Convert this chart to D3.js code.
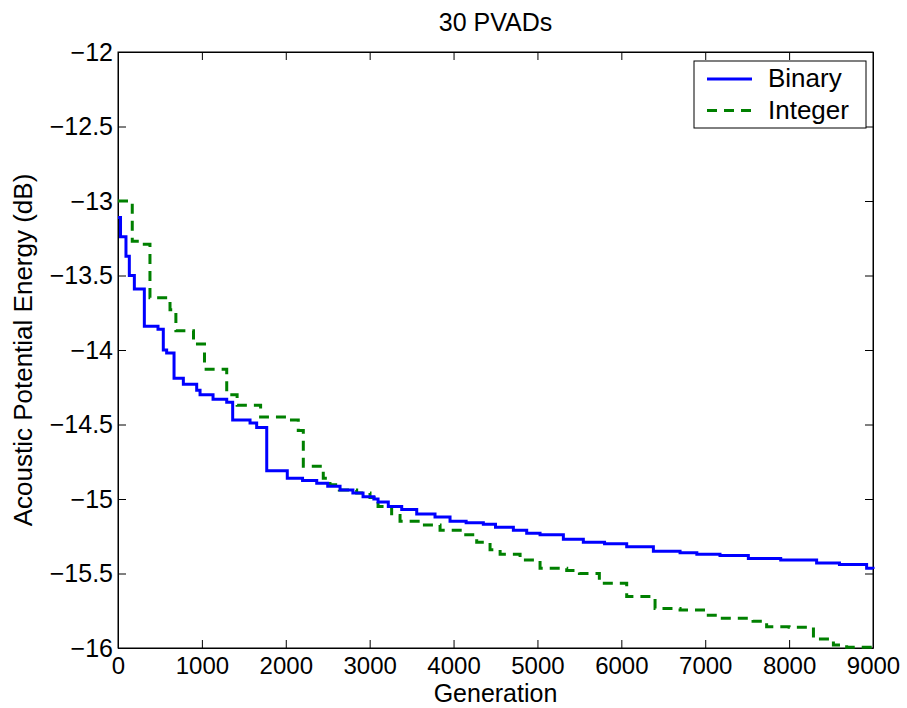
<!DOCTYPE html>
<html>
<head>
<meta charset="utf-8">
<script src="https://cdn.jsdelivr.net/npm/d3@7"></script>
<style>
  body { margin: 0; background: #fff; }
  text { font-family: "Liberation Sans", Arial, sans-serif; fill: #000; }
</style>
</head>
<body>
<svg id="chart" width="907" height="708"></svg>
<script>
// data (generation, dB), drawn as steps
const binary = [
  [0, -13.11], [30, -13.24], [95, -13.37], [135, -13.50], [195, -13.59],
  [314, -13.84], [477, -13.86], [540, -14.00], [580, -14.02], [668, -14.19],
  [779, -14.23], [938, -14.27], [978, -14.30], [1133, -14.33], [1296, -14.35],
  [1367, -14.47], [1574, -14.49], [1653, -14.52], [1773, -14.81], [2018, -14.86],
  [2200, -14.875], [2369, -14.895], [2500, -14.915], [2647, -14.94], [2800, -14.96],
  [2921, -14.985], [3050, -15.0], [3100, -15.02], [3222, -15.05], [3382, -15.07],
  [3561, -15.10], [3779, -15.12], [3958, -15.15], [4150, -15.16], [4355, -15.17],
  [4500, -15.19], [4713, -15.21], [4872, -15.23], [5031, -15.24], [5309, -15.27],
  [5547, -15.29], [5800, -15.30], [6064, -15.32], [6382, -15.35], [6700, -15.36],
  [6900, -15.37], [7176, -15.38], [7514, -15.40], [7900, -15.41], [8328, -15.43],
  [8600, -15.44], [8924, -15.465], [9000, -15.47]
];

const integer = [
  [0, -13.00], [170, -13.27], [250, -13.29], [381, -13.65], [620, -13.73],
  [690, -13.87], [900, -13.96], [1031, -14.13], [1296, -14.30], [1420, -14.37],
  [1700, -14.45], [2011, -14.47], [2149, -14.54], [2209, -14.78], [2447, -14.86],
  [2527, -14.905], [2638, -14.94], [2845, -14.96], [3004, -14.99], [3100, -15.05],
  [3262, -15.11], [3362, -15.15], [3600, -15.175], [3839, -15.21], [4117, -15.24],
  [4276, -15.29], [4435, -15.34], [4555, -15.37], [4793, -15.41], [5031, -15.465],
  [5349, -15.48], [5500, -15.50], [5738, -15.565], [6064, -15.655], [6402, -15.735],
  [6700, -15.745], [7000, -15.78], [7176, -15.80], [7570, -15.82], [7732, -15.857],
  [8000, -15.86], [8290, -15.94], [8528, -15.98], [8686, -15.995], [9000, -16.0]
];

const xTicks = [0, 1000, 2000, 3000, 4000, 5000, 6000, 7000, 8000, 9000];
const yTicks = [-12, -12.5, -13, -13.5, -14, -14.5, -15, -15.5, -16];
const seriesNames = ["Binary", "Integer"];

const svg = d3.select("#chart");
const margin = { top: 52, right: 34, bottom: 60, left: 118 };
const width = 907 - margin.left - margin.right;
const height = 708 - margin.top - margin.bottom;

const x = d3.scaleLinear().domain([0, 9000]).range([0, width]);
const y = d3.scaleLinear().domain([-16, -12]).range([height, 0]);

const g = svg.append("g").attr("transform", `translate(${margin.left},${margin.top})`);

const fmt = d => (d < 0 ? "\u2212" + Math.abs(d) : d);

// axes, ticks pointing inward on all sides
const bottom = g.append("g").attr("transform", `translate(0,${height})`)
  .call(d3.axisBottom(x).tickValues(xTicks).tickFormat(fmt).tickSizeInner(-8).tickSizeOuter(0).tickPadding(9));
const left = g.append("g")
  .call(d3.axisLeft(y).tickValues(yTicks).tickFormat(fmt).tickSizeInner(-8).tickSizeOuter(0).tickPadding(5));
g.append("g")
  .call(d3.axisTop(x).tickValues(xTicks).tickFormat("").tickSizeInner(-8).tickSizeOuter(0));
g.append("g").attr("transform", `translate(${width},0)`)
  .call(d3.axisRight(y).tickValues(yTicks).tickFormat("").tickSizeInner(-8).tickSizeOuter(0));

g.selectAll(".tick line").attr("stroke", "#000");
g.selectAll(".domain").attr("stroke", "#000");
left.selectAll(".tick text").style("font-size", "25px");
bottom.selectAll(".tick text").style("font-size", "24px").attr("dy", "0.72em");
g.selectAll(".tick text").style("font-family", "Liberation Sans, Arial, sans-serif");

g.append("rect").attr("width", width).attr("height", height)
  .attr("fill", "none").attr("stroke", "#000").attr("stroke-width", 1);

const line = d3.line().x(d => x(d[0])).y(d => y(d[1])).curve(d3.curveStepAfter);

g.append("path").datum(integer)
  .attr("d", line).attr("fill", "none")
  .attr("stroke", "#008000").attr("stroke-width", 3)
  .attr("stroke-dasharray", "10,7");

g.append("path").datum(binary)
  .attr("d", line).attr("fill", "none")
  .attr("stroke", "#0000ff").attr("stroke-width", 3);

// title and labels
svg.append("text").attr("x", margin.left + width / 2).attr("y", 31)
  .attr("text-anchor", "middle").style("font-size", "25px").text("30 PVADs");
svg.append("text").attr("x", margin.left + width / 2).attr("y", 702)
  .attr("text-anchor", "middle").style("font-size", "25px").text("Generation");
svg.append("text")
  .attr("transform", `translate(32,${margin.top + height / 2}) rotate(-90)`)
  .attr("text-anchor", "middle").style("font-size", "26px")
  .text("Acoustic Potential Energy (dB)");

// legend
const leg = svg.append("g").attr("transform", "translate(694,61)");
leg.append("rect").attr("width", 172).attr("height", 67)
  .attr("fill", "#fff").attr("stroke", "#000").attr("stroke-width", 1);
const legStyles = [
  { color: "#0000ff", dash: null },
  { color: "#008000", dash: "10,7" }
];
seriesNames.forEach((name, i) => {
  const yy = 18 + i * 31.5;
  leg.append("line").attr("x1", 13).attr("x2", 58).attr("y1", yy).attr("y2", yy)
    .attr("stroke", legStyles[i].color).attr("stroke-width", 3)
    .attr("stroke-dasharray", legStyles[i].dash);
  leg.append("text").attr("x", 74).attr("y", yy + 8)
    .style("font-size", "26px").text(name);
});
</script>
</body>
</html>
